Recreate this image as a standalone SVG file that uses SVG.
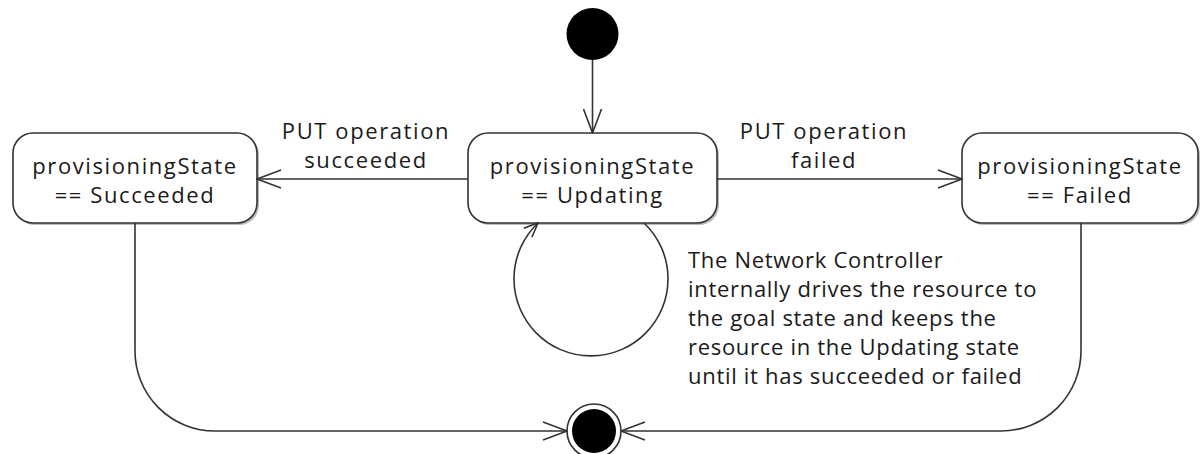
<svg xmlns="http://www.w3.org/2000/svg" width="1201" height="454" viewBox="0 0 1201 454">
  <defs>
    <marker id="open" viewBox="0 0 26 20" refX="25" refY="10" markerWidth="26" markerHeight="20" markerUnits="userSpaceOnUse" orient="auto">
      <path d="M1,1 L25,10 L1,19" fill="none" stroke="#333" stroke-width="1.6"/>
    </marker>
    <marker id="openSmall" viewBox="0 0 16 14" refX="15" refY="7" markerWidth="16" markerHeight="14" markerUnits="userSpaceOnUse" orient="auto">
      <path d="M1,1 L15,7 L1,13" fill="none" stroke="#333" stroke-width="1.6"/>
    </marker>
  </defs>
  <style>
    .box { fill: #fff; stroke: #333; stroke-width: 1.6; }
    .shadow { fill: #bbb; }
    .lbl { font-family: "Open Sans", "DejaVu Sans", sans-serif; font-size: 22px; fill: #1a1a1a; letter-spacing: 1.6px; }
    .mid { text-anchor: middle; }
    .note { font-family: "Open Sans", "DejaVu Sans", sans-serif; font-size: 22px; fill: #1a1a1a; letter-spacing: 0.7px; }
    .edge { fill: none; stroke: #333; stroke-width: 1.6; }
  </style>
  <rect width="1201" height="454" fill="#fff"/>

  <g id="initial">
    <circle cx="592.5" cy="34" r="26" fill="#000"/>
  </g>

  <g id="succeeded">
    <rect class="shadow" x="15" y="135" width="244" height="90" rx="20"/>
    <rect class="box" x="13" y="133" width="244" height="90" rx="20"/>
    <text class="lbl mid" x="135" y="174">provisioningState</text>
    <text class="lbl mid" x="135" y="203">== Succeeded</text>
  </g>

  <g id="updating">
    <rect class="shadow" x="470" y="135" width="249" height="90" rx="20"/>
    <rect class="box" x="468" y="133" width="249" height="90" rx="20"/>
    <text class="lbl mid" x="592.5" y="174">provisioningState</text>
    <text class="lbl mid" x="592.5" y="203">== Updating</text>
  </g>

  <g id="failed">
    <rect class="shadow" x="964" y="135" width="236" height="90" rx="20"/>
    <rect class="box" x="962" y="133" width="236" height="90" rx="20"/>
    <text class="lbl mid" x="1080" y="174">provisioningState</text>
    <text class="lbl mid" x="1080" y="203">== Failed</text>
  </g>

  <g id="final">
    <circle cx="594" cy="431" r="27" fill="#fff" stroke="#333" stroke-width="1.6"/>
    <circle cx="594" cy="431" r="22" fill="#000"/>
  </g>

  <g id="connectors">
    <path class="edge" d="M592.5,60 L592.5,133" marker-end="url(#open)"/>
    <path class="edge" d="M468,179 L257,179" marker-end="url(#open)"/>
    <path class="edge" d="M717,179 L962,179" marker-end="url(#open)"/>
    <path class="edge" d="M644,223 A77,77 0 1 1 538,223" marker-end="url(#openSmall)"/>
    <path class="edge" d="M135,223 L135,351 A80,80 0 0 0 215,431 L567,431" marker-end="url(#open)"/>
    <path class="edge" d="M1081,223 L1081,351 A80,80 0 0 1 1001,431 L621,431" marker-end="url(#open)"/>
  </g>

  <g id="labels">
    <text class="lbl mid" x="366" y="139">PUT operation</text>
    <text class="lbl mid" x="366" y="168">succeeded</text>
    <text class="lbl mid" x="824" y="139">PUT operation</text>
    <text class="lbl mid" x="824" y="168">failed</text>
    <text class="note" x="688" y="268">The Network Controller</text>
    <text class="note" x="688" y="297">internally drives the resource to</text>
    <text class="note" x="688" y="326">the goal state and keeps the</text>
    <text class="note" x="688" y="355">resource in the Updating state</text>
    <text class="note" x="688" y="384">until it has succeeded or failed</text>
  </g>
</svg>
